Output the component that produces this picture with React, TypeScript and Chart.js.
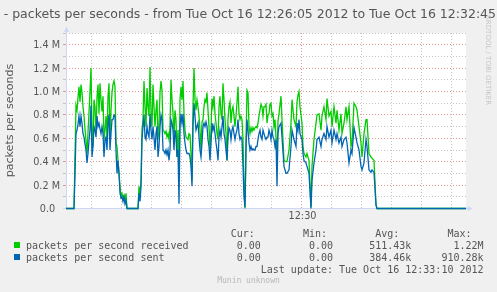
import React, { useEffect, useRef } from "react";
import { Chart, registerables } from "chart.js";

Chart.register(...registerables);

// ---- data (seconds since 12:26:05, values in millions of packets/s) ----
const times = [
  0, 8, 9, 10, 11, 12, 13, 14, 15, 16,
  17, 18, 19, 20, 21, 22, 23, 24, 25, 26,
  27, 28, 29, 30, 31, 32, 33, 34, 35, 36,
  37, 38, 39, 40, 41, 42, 43, 44, 45, 46,
  47, 48, 49, 50, 51, 52, 53, 54, 55, 56,
  57, 58, 59, 60, 61, 62, 63, 64, 65, 66,
  67, 68, 69, 70, 71, 72, 73, 74, 75, 76,
  77, 78, 79, 80, 81, 82, 83, 84, 85, 86,
  87, 88, 89, 90, 91, 92, 93, 94, 95, 96,
  97, 98, 99, 100, 101, 102, 103, 104, 105, 106,
  107, 108, 109, 110, 111, 112, 113, 114, 115, 116,
  117, 118, 119, 120, 121, 122, 123, 124, 125, 126,
  127, 128, 129, 130, 131, 132, 133, 134, 135, 136,
  137, 138, 139, 140, 141, 142, 143, 144, 145, 146,
  147, 148, 149, 150, 151, 152, 153, 154, 155, 156,
  157, 158, 159, 160, 161, 162, 163, 164, 165, 166,
  167, 168, 169, 170, 171, 172, 173, 174, 175, 176,
  177, 178, 179, 180, 181, 182, 183, 184, 185, 186,
  187, 188, 189, 190, 191, 192, 193, 194, 195, 196,
  197, 198, 199, 200, 201, 202, 203, 204, 205, 206,
  207, 208, 209, 210, 211, 212, 213, 215, 216, 218,
  220, 221, 223, 225, 226, 228, 230, 231, 232, 233,
  234, 236, 237, 238, 240, 241, 243, 245, 246, 248,
  250, 251, 253, 255, 256, 258, 260, 261, 263, 265,
  266, 268, 270, 271, 273, 275, 276, 278, 280, 281,
  283, 285, 286, 288, 290, 291, 293, 295, 296, 298,
  300, 301, 303, 305, 306, 308, 310, 311, 400,
];

const received = [
  0, 0, 0.45, 0.88, 0.84, 0.95, 1.04, 0.91, 1.06, 0.99,
  0.87, 0.79, 0.68, 0.58, 0.47, 0.65, 0.82, 1.0, 1.2, 0.68,
  0.53, 0.93, 0.87, 0.64, 0.95, 1.06, 0.81, 1.07, 0.93, 0.83,
  0.96, 0.59, 0.67, 0.79, 0.59, 0.96, 1.07, 0.59, 0.84, 0.99,
  1.06, 1.09, 1.04, 0.56, 0.53, 0.41, 0.3, 0.19, 0.11, 0.13,
  0.09, 0.11, 0.06, 0.13, 0, 0, 0, 0, 0, 0,
  0, 0, 0, 0, 0, 0, 0.19, 0.11, 0.24, 0.67,
  0.76, 1.09, 0.87, 0.7, 1.03, 0.87, 0.79, 1.21, 0.81, 0.7,
  1.06, 0.87, 0.7, 0.84, 0.93, 0.59, 0.7, 0.99, 1.09, 1.01,
  0.67, 0.66, 0.64, 0.66, 0.61, 0.64, 0.59, 0.7, 1.1, 0.93,
  0.81, 0.61, 0.84, 0.76, 0.44, 0.67, 0.25, 0.93, 1.04, 0.93,
  1.09, 0.81, 0.67, 0.61, 0.6, 0.59, 0.64, 0.63, 0.47, 0.24,
  0.87, 1.2, 0.93, 0.84, 0.93, 0.87, 0.79, 0.67, 0.5, 0.74,
  0.76, 0.87, 0.93, 0.91, 0.99, 0.84, 0.7, 0.5, 0.67, 0.94,
  0.87, 0.96, 0.81, 0.73, 0.64, 0.59, 0.87, 0.96, 0.81, 0.76,
  1.07, 0.93, 0.76, 0.64, 0.41, 0.76, 0.87, 0.91, 0.73, 0.84,
  0.87, 0.79, 0.7, 0.79, 0.91, 1.04, 0.81, 0.76, 0.79, 0.76,
  0.59, 0.21, 0, 0.59, 1.01, 0.99, 0.7, 0.64, 0.69, 0.66,
  0.69, 0.67, 0.69, 0.7, 0.69, 0.73, 0.79, 0.84, 0.89, 0.87,
  0.79, 0.87, 0.87, 0.89, 0.73, 0.8, 0.81, 0.89, 0.9, 0.79,
  0.81, 0.7, 0.76, 0.6, 0.45, 0.75, 0.81, 0.96, 0.76, 0.41,
  0.4, 0.4, 0.5, 0.73, 0.93, 0.76, 0.7, 0.91, 0.97, 1.0,
  0.87, 0.73, 0.53, 0.47, 0.44, 0.47, 0.41, 0.01, 0.36, 0.59,
  0.73, 0.8, 0.81, 0.67, 0.79, 0.87, 0.76, 0.94, 0.79, 0.83,
  0.7, 0.87, 0.73, 0.84, 0.67, 0.81, 0.64, 0.73, 0.87, 0.76,
  0.87, 0.53, 0.56, 0.9, 0.87, 0.84, 0.7, 0.56, 0.44, 0.64,
  0.76, 0.76, 0.47, 0.44, 0.43, 0.41, 0.03, 0, 0,
];

const sent = [
  0, 0, 0.3, 0.64, 0.67, 0.72, 0.79, 0.7, 0.79, 0.73,
  0.64, 0.61, 0.55, 0.5, 0.39, 0.47, 0.58, 0.67, 0.88, 0.44,
  0.53, 0.7, 0.67, 0.61, 0.79, 0.7, 0.73, 0.68, 0.64, 0.7,
  0.64, 0.44, 0.59, 0.61, 0.5, 0.73, 0.8, 0.5, 0.64, 0.76,
  0.76, 0.8, 0.79, 0.5, 0.3, 0.41, 0.3, 0.13, 0.09, 0.1,
  0.06, 0.1, 0.04, 0.07, 0, 0, 0, 0, 0, 0,
  0, 0, 0, 0, 0, 0, 0.13, 0.06, 0.19, 0.59,
  0.7, 0.8, 0.61, 0.59, 0.7, 0.64, 0.61, 0.81, 0.67, 0.59,
  0.7, 0.61, 0.5, 0.64, 0.7, 0.44, 0.53, 0.7, 0.8, 0.76,
  0.5, 0.49, 0.47, 0.5, 0.46, 0.5, 0.41, 0.5, 0.76, 0.73,
  0.67, 0.5, 0.67, 0.61, 0.44, 0.5, 0.04, 0.7, 0.81, 0.73,
  0.81, 0.64, 0.56, 0.5, 0.47, 0.47, 0.47, 0.44, 0.36, 0.19,
  0.7, 0.9, 0.79, 0.67, 0.7, 0.73, 0.61, 0.5, 0.44, 0.56,
  0.7, 0.73, 0.7, 0.74, 0.7, 0.59, 0.53, 0.41, 0.56, 0.73,
  0.67, 0.71, 0.64, 0.56, 0.5, 0.41, 0.61, 0.67, 0.61, 0.7,
  0.79, 0.64, 0.59, 0.5, 0.41, 0.61, 0.69, 0.67, 0.59, 0.67,
  0.7, 0.64, 0.59, 0.64, 0.67, 0.76, 0.64, 0.59, 0.61, 0.59,
  0.36, 0.1, 0.01, 0.5, 0.76, 0.67, 0.56, 0.5, 0.53, 0.5,
  0.51, 0.5, 0.5, 0.53, 0.53, 0.59, 0.64, 0.67, 0.61, 0.59,
  0.67, 0.64, 0.61, 0.59, 0.61, 0.61, 0.67, 0.64, 0.59, 0.67,
  0.61, 0.59, 0.53, 0.59, 0.19, 0.64, 0.7, 0.73, 0.61, 0.36,
  0.3, 0.3, 0.33, 0.53, 0.67, 0.59, 0.53, 0.73, 0.67, 0.76,
  0.64, 0.59, 0.47, 0.41, 0.39, 0.36, 0.3, 0, 0.24, 0.39,
  0.5, 0.59, 0.61, 0.53, 0.59, 0.64, 0.59, 0.7, 0.61, 0.67,
  0.56, 0.67, 0.59, 0.64, 0.56, 0.61, 0.53, 0.59, 0.61, 0.56,
  0.39, 0.5, 0.47, 0.69, 0.61, 0.56, 0.5, 0.36, 0.33, 0.39,
  0.59, 0.53, 0.33, 0.31, 0.33, 0.31, 0.03, 0, 0,
];

const yTickValues = [0, 0.1, 0.2, 0.3, 0.4, 0.5, 0.6, 0.7, 0.8, 0.9, 1.0, 1.1, 1.2, 1.3, 1.4, 1.5];
const yTickLabels = ["0.0\u2002", "", "0.2 M", "", "0.4 M", "", "0.6 M", "", "0.8 M", "", "1.0 M", "", "1.2 M", "", "1.4 M", ""];
const xGridTimes = [25, 55, 85, 115, 145, 175, 205, 235, 265, 295, 325, 355, 385];
const xLabelTime = 235;
const xLabelText = "12:30";

const TITLE = "- packets per seconds - from Tue Oct 16 12:26:05 2012 to Tue Oct 16 12:32:45";
const Y_TITLE = "packets per seconds";
const SIDE_TEXT = "RRDTOOL / TOBI OETIKER";
const FOOTER = "Munin unknown";
const LAST_UPDATE = "Last update: Tue Oct 16 12:33:10 2012";

const seriesNames = ["packets per second received", "packets per second sent"];
const seriesColors = ["#00CC00", "#0066B3"];
const statHeaders = ["Cur:", "Min:", "Avg:", "Max:"];
const statsReceived = ["0.00", "0.00", "511.43k", "1.22M"];
const statsSent = ["0.00", "0.00", "384.46k", "910.28k"];

const W = 497;
const H = 292;
const TEXT = "#555555";
const AXIS = "#CFD6F8";
const GRID = "#c4c4c4";
const MGRID = "#e89494";

const MONO = '"DejaVu Sans Mono"';
const SANS = '"DejaVu Sans"';

const decor = {
  id: "decor",
  beforeDraw(chart: any) {
    const { ctx, chartArea: a } = chart;
    ctx.save();
    ctx.fillStyle = "#f0f0f0";
    ctx.fillRect(0, 0, chart.width, chart.height);
    ctx.fillStyle = "#ffffff";
    ctx.fillRect(a.left, a.top, a.right - a.left, a.bottom - a.top);
    ctx.restore();
  },
  beforeDatasetsDraw(chart: any) {
    const { ctx, chartArea: a } = chart;
    const x0 = Math.floor(a.left) + 0.5;
    const y0 = Math.floor(a.bottom) + 0.5;
    ctx.save();
    ctx.strokeStyle = AXIS;
    ctx.fillStyle = AXIS;
    ctx.lineWidth = 1;
    ctx.beginPath();
    ctx.moveTo(x0, a.top - 2);
    ctx.lineTo(x0, y0);
    ctx.moveTo(a.left - 3, y0);
    ctx.lineTo(a.right + 2, y0);
    ctx.stroke();
    // arrows
    ctx.beginPath();
    ctx.moveTo(x0, a.top - 6.5);
    ctx.lineTo(x0 - 2.5, a.top - 1);
    ctx.lineTo(x0 + 2.5, a.top - 1);
    ctx.closePath();
    ctx.fill();
    ctx.beginPath();
    ctx.moveTo(a.right + 7, y0);
    ctx.lineTo(a.right + 1.5, y0 - 2.5);
    ctx.lineTo(a.right + 1.5, y0 + 2.5);
    ctx.closePath();
    ctx.fill();
    ctx.restore();
  },
  afterDraw(chart: any) {
    const c = chart.ctx;
    c.save();
    c.textBaseline = "alphabetic";
    // title
    c.fillStyle = TEXT;
    c.font = `12.5px ${SANS}`;
    c.textAlign = "right";
    c.fillText(TITLE, 496, 18);
    // vertical axis title
    c.save();
    c.translate(13, 120.5);
    c.rotate(-Math.PI / 2);
    c.textAlign = "center";
    c.font = `11.1px ${SANS}`;
    c.fillText(Y_TITLE, 0, 0);
    c.restore();
    // side watermark
    c.save();
    c.translate(486, 15);
    c.rotate(Math.PI / 2);
    c.textAlign = "left";
    c.font = `7px ${SANS}`;
    c.fillStyle = "#c6c6c6";
    c.fillText(SIDE_TEXT, 0, 0);
    c.restore();
    // legend
    const col = (n: number) => 26 + n * 6.02;
    c.font = `10px ${MONO}`;
    c.fillStyle = TEXT;
    c.textAlign = "left";
    const headerCols = [34, 46, 58, 70];
    statHeaders.forEach((h, i) => c.fillText(h, col(headerCols[i]), 237));
    const endCols = [39, 51, 64, 76];
    const rows = [statsReceived, statsSent];
    rows.forEach((vals, r) => {
      const base = 249 + r * 12;
      c.fillStyle = seriesColors[r];
      c.fillRect(14, base - 7, 6, 6);
      c.fillStyle = TEXT;
      c.textAlign = "left";
      c.fillText(seriesNames[r], col(0), base);
      c.textAlign = "right";
      vals.forEach((v, i) => c.fillText(v, col(endCols[i]), base));
    });
    c.textAlign = "right";
    c.fillText(LAST_UPDATE, col(76), 273);
    // footer watermark
    c.textAlign = "center";
    c.font = `8px ${MONO}`;
    c.fillStyle = "#b8b8b8";
    c.fillText(FOOTER, 248.5, 283);
    c.restore();
  },
};

export default function App() {
  const ref = useRef<HTMLCanvasElement>(null);
  useEffect(() => {
    const n = Math.min(times.length, received.length, sent.length);
    const pts = (vals: number[]) => {
      const out: { x: number; y: number }[] = [];
      for (let i = 0; i < n; i++) out.push({ x: times[i], y: vals[i] });
      return out;
    };
    const chart = new Chart(ref.current as HTMLCanvasElement, {
      type: "line",
      data: {
        datasets: [
          {
            label: seriesNames[1],
            data: pts(sent),
            borderColor: seriesColors[1],
            borderWidth: 1.3,
            pointRadius: 0,
            tension: 0,
            fill: false,
            clip: false as any,
            order: 0,
          },
          {
            label: seriesNames[0],
            data: pts(received),
            borderColor: seriesColors[0],
            borderWidth: 1.3,
            pointRadius: 0,
            tension: 0,
            fill: false,
            clip: false as any,
            order: 1,
          },
        ],
      },
      options: {
        responsive: false,
        animation: false,
        devicePixelRatio: 1,
        events: [],
        layout: { padding: { top: 33, right: 31, left: 0, bottom: 0 } },
        plugins: { legend: { display: false }, tooltip: { enabled: false }, title: { display: false } },
        scales: {
          x: {
            type: "linear",
            min: 0,
            max: 400,
            afterBuildTicks: (s: any) => {
              s.ticks = xGridTimes.map((v) => ({ value: v }));
            },
            afterFit: (s: any) => {
              s.height = 83.5;
            },
            ticks: {
              autoSkip: false,
              maxRotation: 0,
              padding: 2,
              labelOffset: 1.5,
              color: TEXT,
              font: { family: "DejaVu Sans", size: 9.7 },
              callback: (_v: any, i: number) => (xGridTimes[i] === xLabelTime ? xLabelText : ""),
            },
            grid: {
              drawTicks: false,
              lineWidth: 1,
              color: (ctx: any) => (ctx.tick && ctx.tick.value === xLabelTime ? MGRID : GRID),
            },
            border: { display: false, dash: [1, 2] },
          },
          y: {
            min: 0,
            max: 1.5,
            afterBuildTicks: (s: any) => {
              s.ticks = yTickValues.map((v) => ({ value: v }));
            },
            afterFit: (s: any) => {
              s.width = 66;
            },
            ticks: {
              autoSkip: false,
              padding: 3,
              labelOffset: 1,
              color: TEXT,
              font: { family: "DejaVu Sans", size: 9.7 },
              callback: (_v: any, i: number) => yTickLabels[i],
            },
            grid: {
              drawTicks: true,
              tickLength: 3,
              lineWidth: 1,
              color: (ctx: any) => {
                const i = ctx.index;
                if (i === 0) return "rgba(0,0,0,0)";
                return i % 2 === 0 ? MGRID : GRID;
              },
            },
            border: { display: false, dash: [1, 2] },
          },
        },
      },
      plugins: [decor],
    });
    return () => chart.destroy();
  }, []);
  return (
    <div style={{ position: "fixed", left: 0, top: 0, width: W, height: H, background: "#f0f0f0", overflow: "hidden" }}>
      <canvas ref={ref} width={W} height={H} style={{ display: "block", width: W, height: H }} />
    </div>
  );
}
